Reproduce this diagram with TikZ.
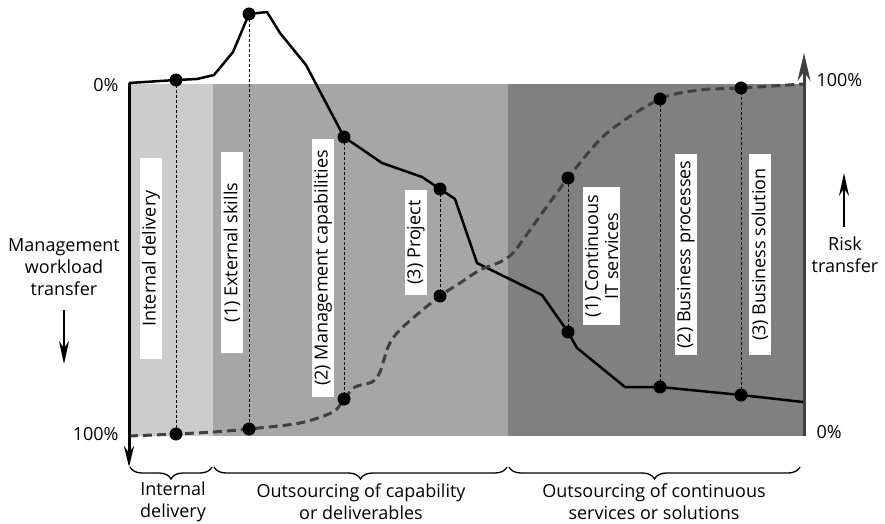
\documentclass[tikz,border=0pt]{standalone}
\usepackage{fontspec}
\setmainfont{Open Sans}
\usepackage{tikz}
\usetikzlibrary{arrows.meta,decorations.pathreplacing}
\definecolor{lightband}{RGB}{204,204,204}
\definecolor{midband}{RGB}{166,166,166}
\definecolor{darkband}{RGB}{128,128,128}
\definecolor{riskgray}{RGB}{64,64,64}
\tikzset{
    phase/.style={fill=white, rotate=90, inner sep=0pt, minimum height=22pt,
        font=\fontsize{18}{20}\selectfont},
    guide/.style={densely dashed, line width=1pt},
    workload/.style={line width=2.5pt, line join=round},
    risk/.style={riskgray, line width=3pt, dash pattern=on 9pt off 5pt},
    bigarrow/.style={line width=1.5pt, -{Stealth[length=23pt,width=10pt]}},
    phasebrace/.style={decorate, decoration={brace, amplitude=12pt, mirror}, line width=1.3pt}
}

\begin{document}
\begin{tikzpicture}[x=1pt, y=-1pt, font=\fontsize{18}{22}\selectfont]
            \useasboundingbox (0,0) rectangle (885,524);
            
            \fill[lightband] (129,84) rectangle (213,436);
            \fill[midband] (213,84) rectangle (508,436);
            \fill[darkband] (508,84) rectangle (804,436);
            
            \node[phase, minimum width=201pt] (intdel) at (151,258.5) {Internal delivery};
            \node[phase, minimum width=201pt] (extskills) at (232,252.5) {(1) External skills};
            \node[phase, minimum width=258pt] (mgmtcap) at (323,268) {(2) Management capabilities};
            \node[phase, minimum width=105pt] (project) at (416,242.5) {(3) Project};
            \node[phase, minimum width=138pt, minimum height=37pt, align=center] (contit) at (601.5,256)
                {(1) Continuous\\IT services};
            \node[phase, minimum width=201pt] (busproc) at (686,254.5) {(2) Business processes};
            \node[phase, minimum width=201pt] (bussol) at (760,254.5) {(3) Business solution};
            
            % workload points (m) and risk points (r)
            \coordinate (m1) at (176,80);
            \coordinate (m2) at (249,14);
            \coordinate (m3) at (344,137);
            \coordinate (m4) at (440,189);
            \coordinate (m5) at (568,332);
            \coordinate (m6) at (660,387);
            \coordinate (m7) at (741,395);
            \coordinate (r1) at (176,434);
            \coordinate (r2) at (249,429);
            \coordinate (r3) at (344,399);
            \coordinate (r4) at (440,296);
            \coordinate (r5) at (568,178);
            \coordinate (r6) at (660,99);
            \coordinate (r7) at (741,88);
            
            \foreach \i in {1,...,7}
                \draw[guide] (m\i) -- (r\i);
            
            \draw[workload] (129,83) -- (m1) -- (197,79) -- (214,75) -- (233,52) -- (m2)
                -- (267,12) -- (280,33) -- (306,65) -- (m3) -- (382,163) -- (422,177)
                -- (m4) -- (455,199) -- (477,263) -- (542,295) -- (m5) -- (577,348)
                -- (625,387) -- (m6) -- (m7) -- (803,402);
            \draw[risk] plot[smooth, tension=0.5] coordinates {(129,436) (r1) (213,432) (r2)
                (300,423) (333,412) (r3) (355,387) (372,382) (380,372) (388,347) (397,333)
                (413,318) (r4) (460,283) (480,270) (500,262) (513,253) (530,230) (r5)
                (607,133) (r6) (700,90) (r7) (803,84)};
            
            \foreach \p in {m1,m2,m3,m4,m5,m6,m7,r1,r2,r3,r4,r5,r6,r7}
                \fill (\p) circle [radius=6.5pt];
            
            % axes
            \draw[line width=3pt, -{Stealth[length=21pt,width=10pt]}] (129,83) -- (129,467);
            \draw[riskgray, line width=3pt, -{Stealth[length=28pt,width=13pt]}] (804,436) -- (804,53);
            
            \node[anchor=east] (wl0) at (122,85) {0\%};
            \node[anchor=east] (wl100) at (122,434) {100\%};
            \node[anchor=west] (rk100) at (813,80) {100\%};
            \node[anchor=west] (rk0) at (813,432) {0\%};
            
            \node[align=center] (wltransfer) at (64,267) {Management\\workload\\transfer};
            \coordinate (wltip) at (64,364);
            \draw[bigarrow] (64,310) -- (wltip);
            \node[align=center] (rktransfer) at (845,255) {Risk\\transfer};
            \coordinate (rktip) at (844,173);
            \draw[bigarrow] (844,227) -- (rktip);
            
            % phases below the axis
            \coordinate (b0) at (130,467);
            \coordinate (b1) at (212,467);
            \coordinate (b2) at (214,467);
            \coordinate (b3) at (507,467);
            \coordinate (b4) at (509,467);
            \coordinate (b5) at (800,467);
            \draw[phasebrace] (b0) -- (b1);
            \draw[phasebrace] (b2) -- (b3);
            \draw[phasebrace] (b4) -- (b5);
            \node[align=center, inner sep=1pt] (inthouse) at (173,502) {Internal\\delivery};
            \node[align=center, inner sep=1pt] (capab) at (361,502) {Outsourcing of capability\\or deliverables};
            \node[align=center, inner sep=1pt] (contserv) at (654,502) {Outsourcing of continuous\\services or solutions};
            
\end{tikzpicture}
\end{document}
